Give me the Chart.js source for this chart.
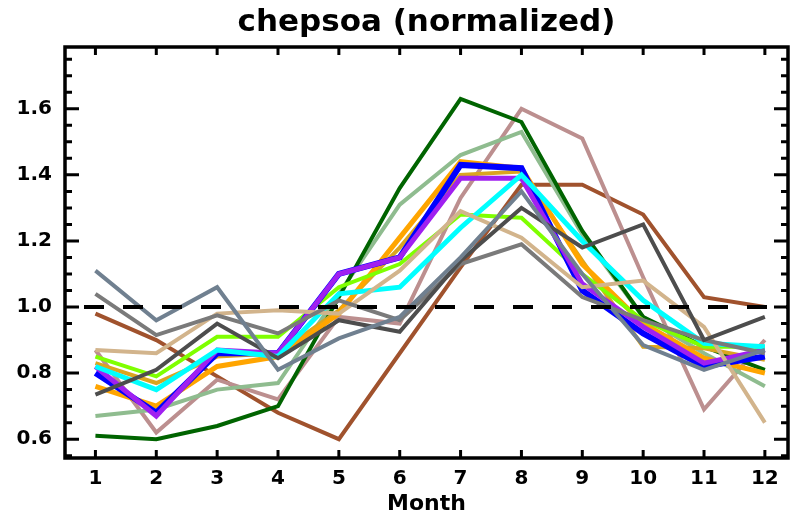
<!DOCTYPE html>
<html>
<head>
<meta charset="utf-8">
<script src="https://cdn.jsdelivr.net/npm/chart.js@4"></script>
<style>
  html, body { margin: 0; padding: 0; background: #fff; }
  #wrap { width: 792px; height: 518px; }
</style>
</head>
<body>
<div id="wrap"><canvas id="chart" width="792" height="518"></canvas></div>
<script>
// months on the x axis
const months = [1, 2, 3, 4, 5, 6, 7, 8, 9, 10, 11, 12];
const yTicks = [0.6, 0.8, 1.0, 1.2, 1.4, 1.6];

// one normalized series per line colour
const sienna     = [0.98, 0.90, 0.79, 0.68, 0.60, 0.86, 1.12, 1.37, 1.37, 1.28, 1.03, 1.00];
const rosyBrown  = [0.87, 0.62, 0.78, 0.72, 0.97, 0.95, 1.33, 1.60, 1.51, 1.09, 0.69, 0.90];
const tan        = [0.87, 0.86, 0.98, 0.99, 0.98, 1.11, 1.29, 1.21, 1.06, 1.08, 0.94, 0.65];
const goldenrod  = [0.83, 0.77, 0.85, 0.86, 0.99, 1.18, 1.40, 1.41, 1.14, 0.88, 0.875, 0.84];
const orange     = [0.76, 0.70, 0.82, 0.85, 0.98, 1.21, 1.44, 1.42, 1.13, 0.95, 0.845, 0.80];
const sage       = [0.67, 0.69, 0.75, 0.77, 1.04, 1.31, 1.46, 1.53, 1.22, 0.97, 0.86, 0.76];
const darkGreen  = [0.61, 0.60, 0.64, 0.70, 1.03, 1.36, 1.63, 1.56, 1.23, 0.97, 0.88, 0.81];
const chartreuse = [0.85, 0.79, 0.91, 0.91, 1.06, 1.13, 1.28, 1.27, 1.10, 0.96, 0.88, 0.88];
const cyan       = [0.82, 0.75, 0.87, 0.85, 1.04, 1.06, 1.24, 1.40, 1.20, 1.02, 0.89, 0.88];
const blue       = [0.80, 0.68, 0.86, 0.86, 1.10, 1.15, 1.43, 1.42, 1.05, 0.92, 0.82, 0.85];
const purple     = [0.82, 0.67, 0.87, 0.86, 1.10, 1.15, 1.39, 1.39, 1.07, 0.94, 0.83, 0.87];
const gray       = [1.04, 0.915, 0.975, 0.92, 1.02, 0.96, 1.13, 1.19, 1.03, 0.96, 0.90, 0.86];
const darkGray   = [0.735, 0.81, 0.95, 0.845, 0.96, 0.925, 1.14, 1.30, 1.18, 1.25, 0.90, 0.97];
const slateGray  = [1.11, 0.96, 1.06, 0.81, 0.905, 0.97, 1.15, 1.35, 1.10, 0.885, 0.81, 0.87];

// drawn in this order, last on top
const seriesList = [
  [sienna, "#A0522D", 4],
  [rosyBrown, "#BC8F8F", 4],
  [sage, "#8FBC8F", 4],
  [darkGreen, "#006400", 4],
  [goldenrod, "#DAA520", 4],
  [orange, "#FFA500", 5],
  [chartreuse, "#7FFF00", 4],
  [blue, "#0000FF", 6],
  [purple, "#A020F0", 5],
  [cyan, "#00FFFF", 5],
  [tan, "#D2B48C", 4],
  [gray, "#7A7A7A", 4],
  [darkGray, "#4D4D4D", 4],
  [slateGray, "#708090", 4]
];

const FONT = "'DejaVu Sans', sans-serif";

// box, inward ticks, dashed 1.0 line and the title
const frame = {
  id: "frame",
  afterDraw(chart) {
    const { ctx, chartArea: a, scales } = chart;
    const y1 = scales.y.getPixelForValue(1.0);
    ctx.save();
    ctx.strokeStyle = "#000";
    ctx.lineWidth = 4;
    ctx.setLineDash([20, 19]);
    ctx.beginPath();
    ctx.moveTo(a.left + 19, y1);
    ctx.lineTo(a.right, y1);
    ctx.stroke();
    ctx.setLineDash([]);

    ctx.lineWidth = 3.5;
    ctx.strokeRect(a.left, a.top, a.right - a.left, a.bottom - a.top);
    ctx.lineWidth = 3;
    ctx.beginPath();
    months.forEach((m) => {
      const x = scales.x.getPixelForValue(m);
      ctx.moveTo(x, a.bottom);
      ctx.lineTo(x, a.bottom - 8);
      ctx.moveTo(x, a.top);
      ctx.lineTo(x, a.top + 8);
    });
    for (let v = 0.55; v <= 1.76; v += 0.05) {
      const y = scales.y.getPixelForValue(v);
      const major = Math.abs(Math.round(v * 100) % 20) === 0;
      const len = major ? 14 : 7;
      ctx.moveTo(a.left, y);
      ctx.lineTo(a.left + len, y);
      ctx.moveTo(a.right, y);
      ctx.lineTo(a.right - len, y);
    }
    ctx.stroke();
    ctx.fillStyle = "#000";
    ctx.font = "bold 31px " + FONT;
    ctx.textAlign = "center";
    ctx.textBaseline = "middle";
    ctx.fillText("chepsoa (normalized)", (a.left + a.right) / 2, 23);
    ctx.restore();
  }
};

new Chart(document.getElementById("chart"), {
  type: "line",
  data: {
    datasets: seriesList.map(([vals, color, w], i) => ({
      data: months.map((m, j) => ({ x: m, y: vals[j] })),
      borderColor: color,
      backgroundColor: color,
      borderWidth: w,
      pointRadius: 0,
      tension: 0,
      fill: false,
      order: seriesList.length - i
    }))
  },
  options: {
    responsive: false,
    animation: false,
    layout: { padding: { top: 47, right: 4, left: 0, bottom: 0 } },
    plugins: { legend: { display: false }, title: { display: false }, tooltip: { enabled: false } },
    scales: {
      x: {
        type: "linear",
        min: 0.5,
        max: 12.38,
        grid: { display: false, drawTicks: false },
        border: { display: false },
        afterBuildTicks: (s) => { s.ticks = months.map((v) => ({ value: v })); },
        afterFit: (s) => { s.height = 60; },
        ticks: {
          padding: 9,
          color: "#000",
          font: { family: FONT, size: 20, weight: "bold" },
          callback: (v) => String(v)
        },
        title: {
          display: true,
          text: "Month",
          color: "#000",
          padding: { top: 0, bottom: 1 },
          font: { family: FONT, size: 22, weight: "bold" }
        }
      },
      y: {
        min: 0.543,
        max: 1.787,
        grid: { display: false, drawTicks: false },
        border: { display: false },
        afterBuildTicks: (s) => { s.ticks = yTicks.map((v) => ({ value: v })); },
        afterFit: (s) => { s.width = 65; },
        ticks: {
          padding: 13,
          color: "#000",
          font: { family: FONT, size: 20, weight: "bold" },
          callback: (v) => Number(v).toFixed(1)
        }
      }
    }
  },
  plugins: [frame]
});
</script>
</body>
</html>
